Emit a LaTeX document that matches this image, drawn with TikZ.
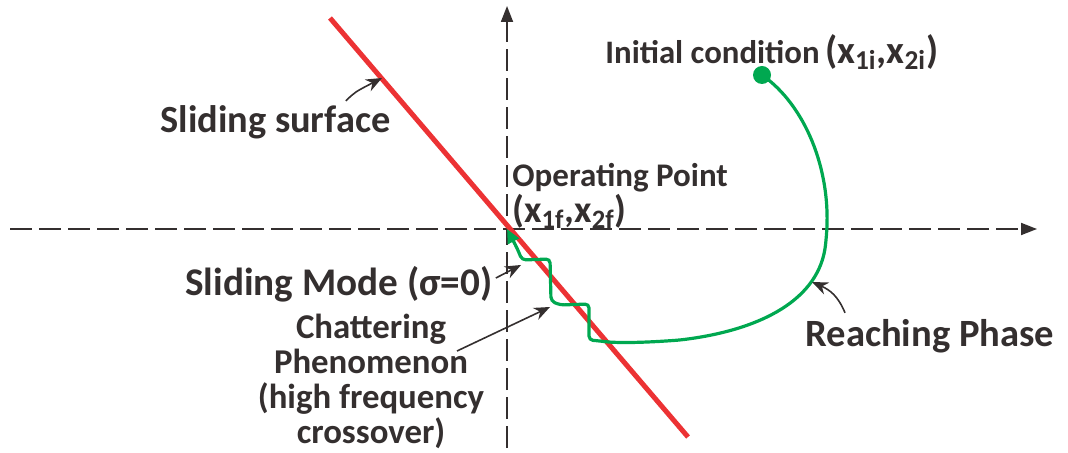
\documentclass[tikz,border=0pt]{standalone}
\usepackage{fontspec}
\setmainfont{Carlito}
\usetikzlibrary{arrows.meta}
\definecolor{slred}{RGB}{236,50,52}
\definecolor{slgreen}{RGB}{0,168,80}
\definecolor{ink}{RGB}{52,47,47}

\begin{document}
\begin{tikzpicture}[x=0.5pt,y=-0.5pt,>=Latex,
  lbl/.style={text=ink,font=\bfseries,inner sep=0pt},
  ax/.style={draw=ink,line width=0.9pt,dash pattern=on 11pt off 3.5pt,-{Triangle[length=8pt,width=6pt]}},
  pointer/.style={draw=ink,line width=0.8pt,-{Stealth[length=8pt,width=6.5pt]}}]
  \useasboundingbox (0,0) rectangle (1068,453);

  % axes
  \coordinate (O) at (507,229);
  \coordinate (xl) at (10,229);
  \coordinate (xr) at (1037,229);
  \coordinate (yb) at (507,448);
  \coordinate (yt) at (507,6);
  \draw[ax] (xl) -- (xr);
  \draw[ax] (yb) -- (yt);

  % sliding surface
  \coordinate (s1) at (330,18);
  \coordinate (s2) at (688,437);
  \draw[slred,line width=2.5pt] (s1) -- (s2);

  % trajectory
  \coordinate (ic) at (762,75);
  \draw[slgreen,line width=1.6pt,rounded corners=2pt,-{Triangle[length=7pt,width=6pt]}]
    (ic) .. controls (805,105) and (832,170) .. (826,240)
    .. controls (820,300) and (760,330) .. (680,340)
    .. controls (640,343) and (615,343) .. (600,341)
    -- (589,340) -- (589,304) -- (560,305) -- (551,301) -- (550,259)
    -- (522,260) -- (517,248) -- (O);
  \fill[slgreen] (ic) circle (9);

  % labels
  \node[lbl,anchor=west] (init) at (605,52) {\fontsize{16.4}{19}\selectfont Initial condition\,{\fontsize{19.5}{22}\selectfont(x\textsubscript{1i},x\textsubscript{2i})}};
  \node[lbl,anchor=west] (surf) at (160,122) {\fontsize{19.2}{22}\selectfont Sliding surface};
  \node[lbl,anchor=west,align=left,font=\bfseries\fontsize{16.5}{16}\selectfont] (opt) at (512,196) {Operating Point\\{\fontsize{19}{18}\selectfont(x\textsubscript{1f},x\textsubscript{2f})}};
  \node[lbl,anchor=west] (mode) at (185,284) {\fontsize{19.6}{22}\selectfont Sliding Mode (σ=0)};
  \node[lbl,align=center,font=\bfseries\fontsize{17.4}{17.5}\selectfont] (chat) at (371,381) {Chattering\\Phenomenon\\(high frequency\\crossover)};
  \node[lbl,anchor=west] (reach) at (805,336) {\fontsize{19.3}{22}\selectfont Reaching Phase};

  % pointers
  \coordinate (ps) at (382,78);
  \coordinate (pm) at (521,265);
  \coordinate (pc0) at (457,351);
  \coordinate (pc) at (550,307);
  \coordinate (pr) at (812,282);
  \draw[pointer] (surf.north east) ++(-45,-4) .. controls (355,92) .. (ps);
  \draw[pointer] (mode.east) ++(3,-6) -- (pm);
  \draw[pointer] (pc0) -- (pc);
  \draw[pointer] (reach.north west) ++(40,-6) .. controls (838,296) and (830,290) .. (pr);
\end{tikzpicture}
\end{document}
